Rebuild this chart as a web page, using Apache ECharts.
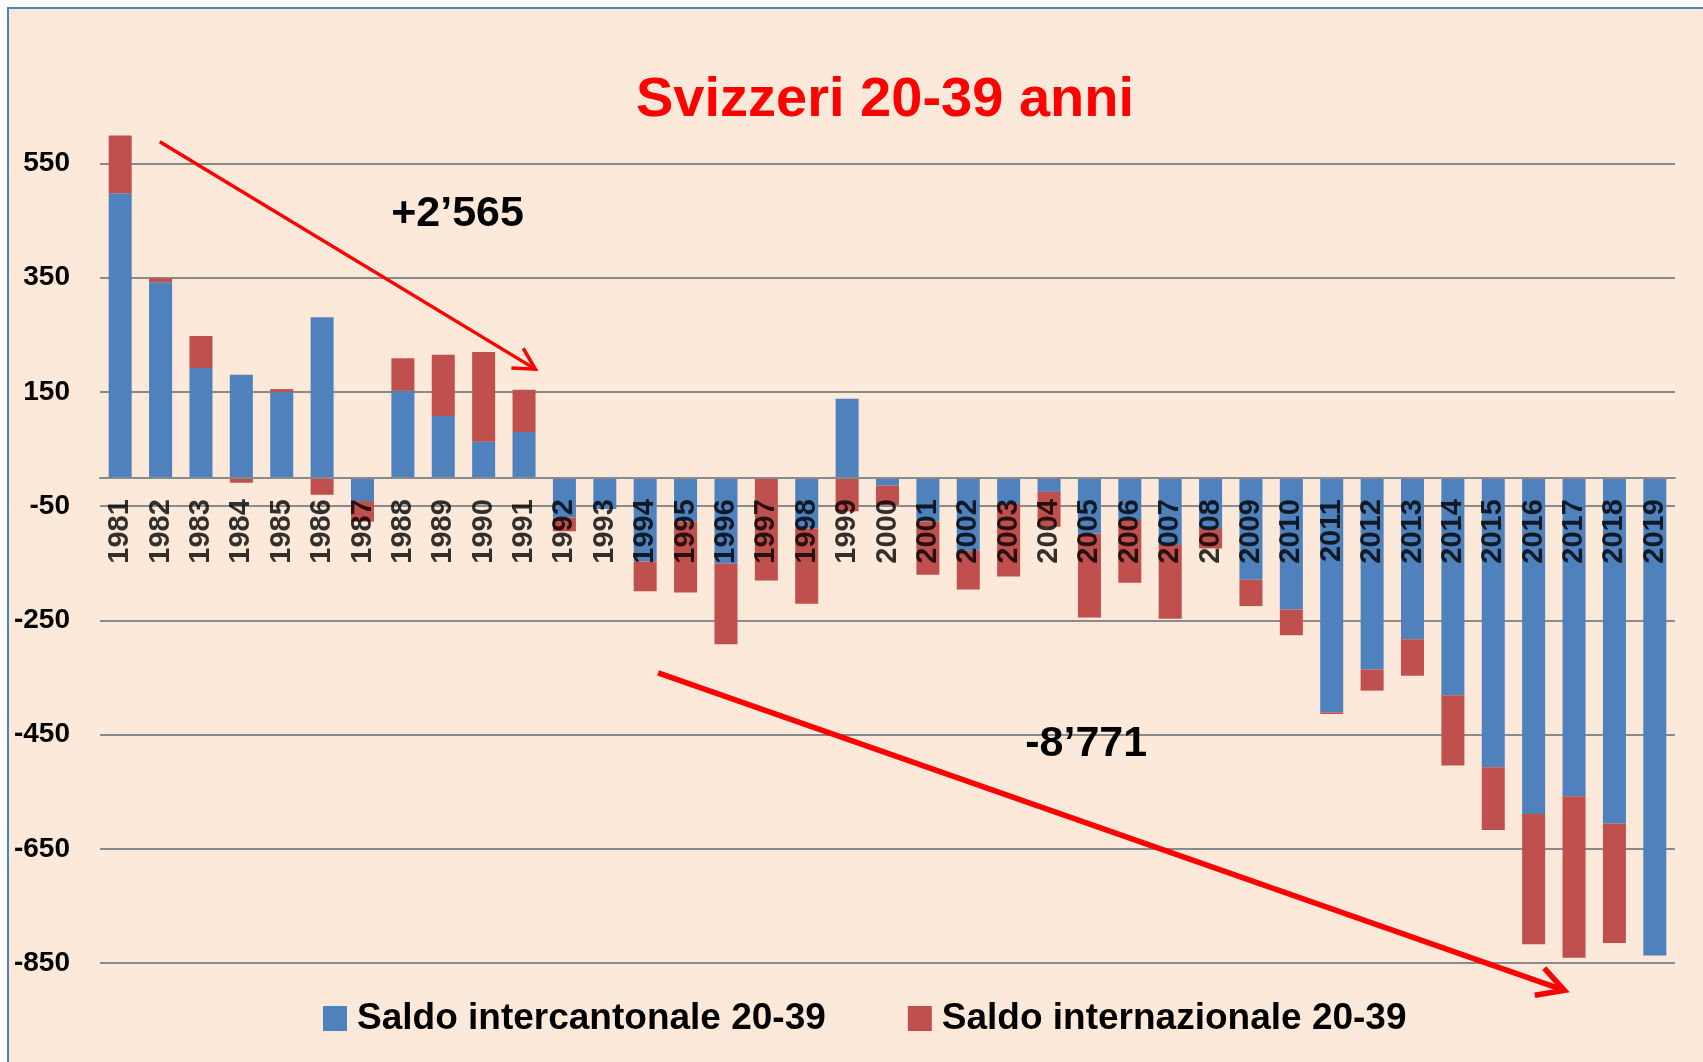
<!DOCTYPE html>
<html>
<head>
<meta charset="utf-8">
<title>Svizzeri 20-39 anni</title>
<script src="https://cdn.jsdelivr.net/npm/echarts@6/dist/echarts.min.js"></script>
<style>
  html, body { margin: 0; padding: 0; background: #fff; }
  #frame {
    position: absolute; left: 7px; top: 7px; right: 0; bottom: 0;
    border-top: 2px solid #4f81bd; border-left: 2px solid #4f81bd;
    background: #fde9d9;
  }
  #chart { position: absolute; left: 0; top: 0; width: 1703px; height: 1062px; }
</style>
</head>
<body>
<div id="frame"></div>
<div id="chart"></div>
<script>
// anni
const years = [
  "1981", "1982", "1983", "1984", "1985", "1986", "1987", "1988", "1989", "1990",
  "1991", "1992", "1993", "1994", "1995", "1996", "1997", "1998", "1999", "2000",
  "2001", "2002", "2003", "2004", "2005", "2006", "2007", "2008", "2009", "2010",
  "2011", "2012", "2013", "2014", "2015", "2016", "2017", "2018", "2019"
];
// saldo intercantonale 20-39
const intercantonale = [
  498, 342, 192, 180, 150, 281, -41, 152, 108, 63,
  80, -70, -55, -147, -77, -151, 0, -89, 138, -14,
  -77, -128, -46, -25, -98, -74, -118, -90, -179, -231,
  -411, -336, -283, -381, -507, -589, -558, -606, -837
];
// saldo internazionale 20-39
const internazionale = [
  101, 7, 56, -9, 5, -30, -36, 57, 107, 157,
  74, -24, 0, -52, -124, -141, -180, -132, -59, -34,
  -93, -68, -127, -61, -147, -110, -129, -34, -46, -45,
  -3, -37, -64, -123, -110, -228, -283, -209, 0
];
const seriesNames = ["Saldo intercantonale 20-39", "Saldo internazionale 20-39"];
const yMin = -850, yMax = 600, yStep = 200;

// annotazioni: [indice anno, valore]
const arrowUp = [[0.98, 588], [10.28, 190]];
const arrowDown = [[13.32, -342], [35.76, -898]];
const notes = [
  { text: "+2\u2019565", at: [6.71, 462] },
  { text: "-8\u2019771", at: [22.41, -466] }
];

const font = "'Liberation Sans', Arial, sans-serif";

const chart = echarts.init(document.getElementById("chart"));
chart.setOption({
  animation: false,
  backgroundColor: "transparent",
  title: {
    text: "Svizzeri 20-39 anni",
    left: 631,
    top: 68,
    textStyle: { color: "#ff0000", fontFamily: font, fontWeight: "bold", fontSize: 56 }
  },
  legend: {
    data: seriesNames,
    left: 318,
    top: 995,
    icon: "rect",
    itemWidth: 24,
    itemHeight: 25,
    itemGap: 82,
    textStyle: { color: "#000", fontFamily: font, fontWeight: "bold", fontSize: 37, padding: [0, 0, 0, 5] }
  },
  grid: { left: 100, right: 28, top: 135, bottom: 99, containLabel: false },
  xAxis: {
    type: "category",
    data: years,
    z: 10,
    axisLine: { onZero: true, lineStyle: { color: "#8a8a8a", width: 2 } },
    axisTick: { show: false },
    axisLabel: { show: false }
  },
  yAxis: {
    type: "value",
    min: yMin,
    max: yMax,
    interval: yStep,
    axisLine: { show: false },
    axisTick: { show: false },
    axisLabel: {
      margin: 30, showMaxLabel: false,
      color: "#000", fontFamily: font, fontWeight: "bold", fontSize: 28,
      formatter: v => (v === yMax ? "" : String(v))
    },
    splitLine: { showMaxLine: false, lineStyle: { color: "#8a8a8a", width: 2 } }
  },
  series: [
    { name: seriesNames[0], type: "bar", stack: "saldo", barWidth: "57%",
      itemStyle: { color: "#4f81bd" }, data: intercantonale },
    { name: seriesNames[1], type: "bar", stack: "saldo", barWidth: "57%",
      itemStyle: { color: "#c0504d" }, data: internazionale },
    // etichette degli anni sotto la linea dello zero, sopra le barre
    { name: "anni", type: "scatter", z: 10, silent: true,
      symbolSize: 1, itemStyle: { color: "transparent" },
      data: years.map(() => 0),
      label: {
        show: true, position: "bottom", distance: 21, rotate: 90,
        align: "right", verticalAlign: "middle",
        formatter: p => p.name,
        color: "#000", fontFamily: font, fontWeight: "bold", fontSize: 29
      }
    }
  ]
});

// posizione in pixel di un punto (indice anno anche frazionario, valore)
function toPx(p) {
  const a = chart.convertToPixel({ gridIndex: 0 }, [0, p[1]]);
  const b = chart.convertToPixel({ gridIndex: 0 }, [1, p[1]]);
  return [a[0] + (b[0] - a[0]) * p[0], a[1]];
}

function arrow(pts, width, head) {
  const s = toPx(pts[0]), e = toPx(pts[1]);
  const ang = Math.atan2(e[1] - s[1], e[0] - s[0]);
  const wing = d => [e[0] - head * Math.cos(ang + d), e[1] - head * Math.sin(ang + d)];
  const style = { stroke: "#ff0000", lineWidth: width, fill: null };
  return [
    { type: "line", z: 100, shape: { x1: s[0], y1: s[1], x2: e[0], y2: e[1] }, style: style },
    { type: "polyline", z: 100, shape: { points: [wing(0.5), e, wing(-0.5)] }, style: style }
  ];
}

const graphic = [].concat(arrow(arrowUp, 3.5, 24), arrow(arrowDown, 5.5, 30));
notes.forEach(n => {
  const p = toPx(n.at);
  graphic.push({
    type: "text", z: 100, x: p[0], y: p[1],
    style: { text: n.text, fill: "#000", font: "bold 43px " + font, textVerticalAlign: "middle" }
  });
});
chart.setOption({ graphic: graphic });
</script>
</body>
</html>
